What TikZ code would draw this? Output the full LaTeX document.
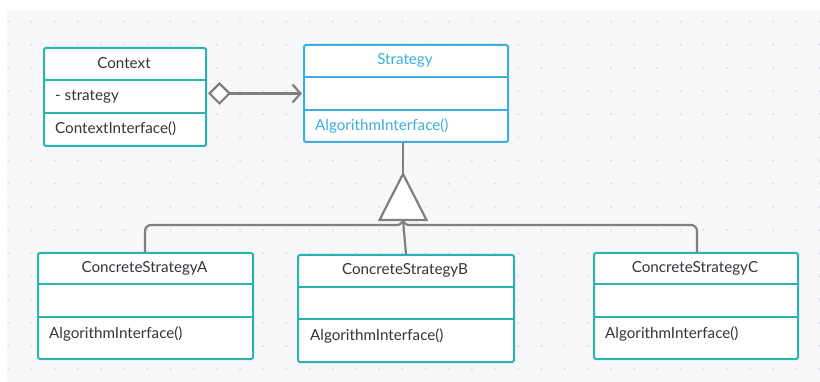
\documentclass[tikz,border=0pt]{standalone}
\usepackage{fontspec}
\setmainfont{Lato}
\usetikzlibrary{arrows.meta}

\definecolor{canvasbg}{HTML}{F8F8FA}
\definecolor{griddot}{HTML}{DCDCE0}
\definecolor{classteal}{HTML}{2BB3AE}
\definecolor{classblue}{HTML}{3DAEDD}
\definecolor{inkdark}{HTML}{34343F}
\definecolor{wiregray}{HTML}{7F7F7F}

\tikzset{
  classbox/.style={draw=classteal, line width=2pt, fill=white, rounded corners=1.5pt,
                   inner sep=0pt, anchor=north west},
  ifacebox/.style={classbox, draw=classblue},
  divider/.style={draw=classteal, line width=2pt},
  ifacedivider/.style={divider, draw=classblue},
  umltext/.style={text=inkdark, font=\fontsize{15.2}{18}\selectfont, inner sep=0pt},
  titletext/.style={umltext, anchor=center},
  membertext/.style={umltext, anchor=west},
  wire/.style={draw=wiregray, line width=2.2pt},
}

\begin{document}
\begin{tikzpicture}[x=1pt, y=-1pt]
  \useasboundingbox (0,0) rectangle (820,382);
  % canvas and dot grid
  \fill[canvasbg] (7,10) rectangle (820,382);
  \foreach \i in {0,...,35}
    \foreach \j in {0,...,15}
      \fill[griddot] (8.3+23.18*\i, 21.5+23.18*\j) circle (1.1);

  % generalization connectors
  \coordinate (tribase) at (403,220);
  \coordinate (triapex) at (403,174);
  \coordinate (busL) at (145,225);
  \coordinate (busR) at (697,225);

  % Context
  \node[classbox, minimum width=162pt, minimum height=98pt] (ctx) at (43,47) {};
  \draw[divider] (43,80) -- (205,80);
  \draw[divider] (43,113) -- (205,113);
  \node[titletext] (ctxtitle) at (124,63.5) {Context};
  \node[membertext] (ctxattr) at (55,96.5) {- strategy};
  \node[membertext] (ctxop) at (55,129) {ContextInterface()};

  % Strategy
  \node[ifacebox, minimum width=204pt, minimum height=97pt] (strat) at (303,44) {};
  \draw[ifacedivider] (303,77) -- (507,77);
  \draw[ifacedivider] (303,110) -- (507,110);
  \node[titletext, text=classblue] (strattitle) at (405,60.5) {Strategy};
  \node[membertext, text=classblue] (stratop) at (315,126) {AlgorithmInterface()};

  % ConcreteStrategyA
  \node[classbox, minimum width=215pt, minimum height=106pt] (csa) at (37,252) {};
  \draw[divider] (37,284) -- (252,284);
  \draw[divider] (37,317) -- (252,317);
  \node[titletext] (csatitle) at (144.5,268) {ConcreteStrategyA};
  \node[membertext] (csaop) at (49,334) {AlgorithmInterface()};

  % ConcreteStrategyB
  \node[classbox, minimum width=216pt, minimum height=107pt] (csb) at (297,254) {};
  \draw[divider] (297,287) -- (513,287);
  \draw[divider] (297,319) -- (513,319);
  \node[titletext] (csbtitle) at (405,270.5) {ConcreteStrategyB};
  \node[membertext] (csbop) at (310,336) {AlgorithmInterface()};

  % ConcreteStrategyC
  \node[classbox, minimum width=204pt, minimum height=106pt] (csc) at (593,252) {};
  \draw[divider] (593,284) -- (797,284);
  \draw[divider] (593,317) -- (797,317);
  \node[titletext] (csctitle) at (695,268) {ConcreteStrategyC};
  \node[membertext] (cscop) at (605,334) {AlgorithmInterface()};

  % inheritance lines joining under the triangle
  \draw[wire, rounded corners=6pt] (csa.north -| busL) -- (busL) -- (busL -| tribase) -- (tribase);
  \draw[wire, rounded corners=6pt] (csc.north -| busR) -- (busR) -- (busR -| tribase) -- (tribase);
  \draw[wire] (csb.north) -- (tribase);
  \draw[wire] (strat.south -| triapex) -- (triapex);
  \draw[wire, fill=white, line join=miter] (triapex) -- ([xshift=23.5pt]tribase) -- ([xshift=-23.5pt]tribase) -- cycle;

  % aggregation from Context to Strategy
  \coordinate (aggy) at (0,93.5);
  \draw[wire, {Diamond[open, fill=white, length=23pt, width=23pt]}-{Straight Barb[length=8pt, width=18pt]}]
    ([xshift=1pt]ctx.east |- aggy) -- ([xshift=-1pt]strat.west |- aggy);
\end{tikzpicture}
\end{document}
